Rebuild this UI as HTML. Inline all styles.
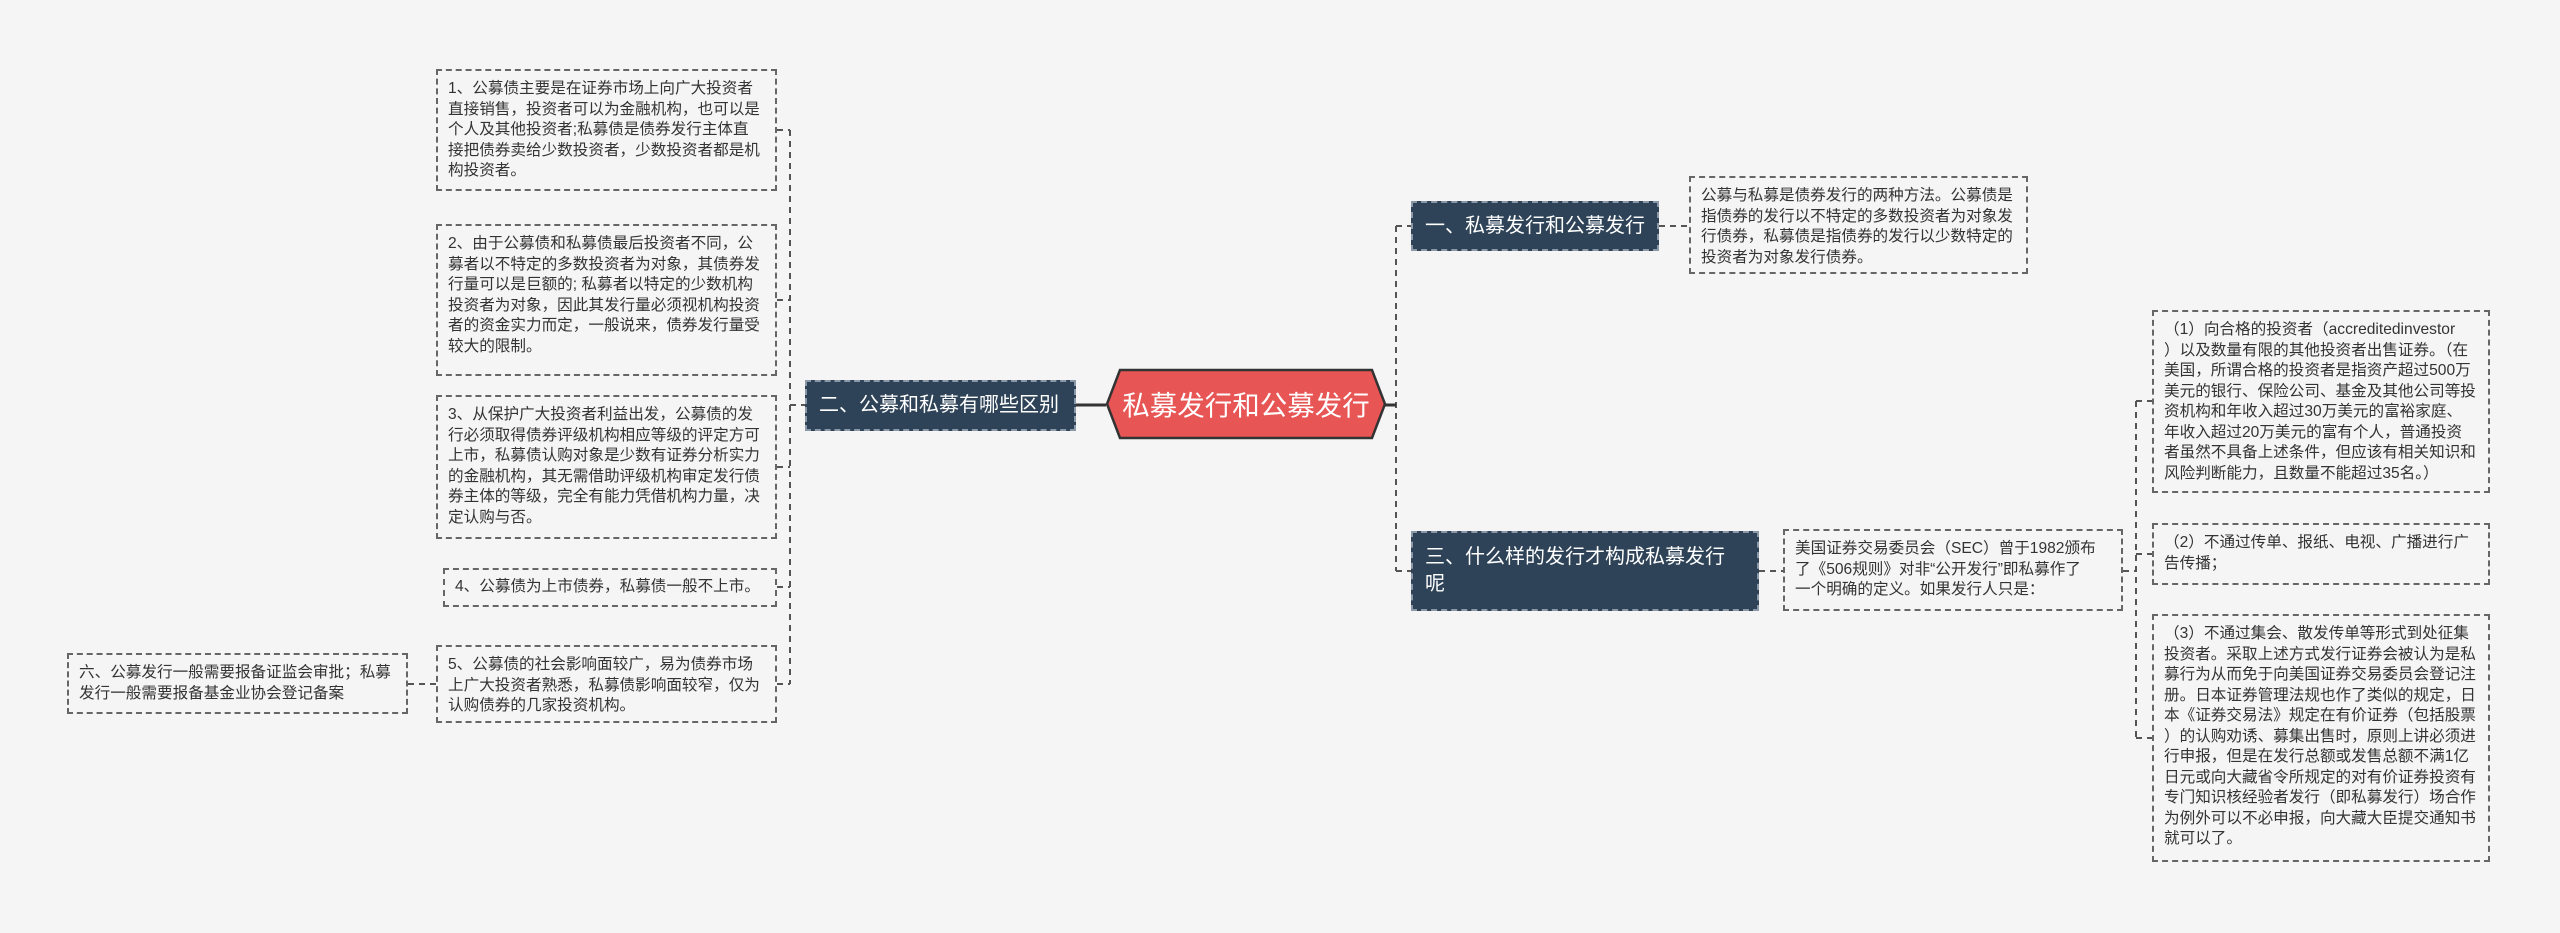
<!DOCTYPE html>
<html><head><meta charset="utf-8"><style>
html,body{margin:0;padding:0}
body{width:2560px;height:933px;background:#f5f5f5;position:relative;overflow:hidden;font-family:"Liberation Sans","Noto Sans CJK SC",sans-serif;color:#333}
.b{position:absolute;box-sizing:border-box;border:2px dashed #666;font-size:15.6px;line-height:20.5px;padding:8px 10px;white-space:nowrap;color:#333}
.n{position:absolute;box-sizing:border-box;background:#2e4358;border:2px dashed #8a98a8;color:#fff;font-size:20px;line-height:27px;padding:0 12px;white-space:nowrap}
svg{position:absolute;left:0;top:0}
</style></head><body>
<svg width="2560" height="933">
<g stroke="#555" stroke-width="2" stroke-dasharray="6,5" fill="none">
<line x1="790" y1="130" x2="790" y2="684"/>
<line x1="777" y1="130" x2="790" y2="130"/>
<line x1="777" y1="300" x2="790" y2="300"/>
<line x1="777" y1="467" x2="790" y2="467"/>
<line x1="777" y1="587" x2="790" y2="587"/>
<line x1="777" y1="684" x2="790" y2="684"/>
<line x1="790" y1="405" x2="805" y2="405"/>
<line x1="408" y1="684" x2="436" y2="684"/>
<line x1="1396" y1="226" x2="1396" y2="571"/>
<line x1="1396" y1="226" x2="1411" y2="226"/>
<line x1="1396" y1="571" x2="1411" y2="571"/>
<line x1="1659" y1="226" x2="1689" y2="226"/>
<line x1="1759" y1="571" x2="1783" y2="571"/>
<line x1="2123" y1="571" x2="2136" y2="571"/>
<line x1="2136" y1="401" x2="2136" y2="738"/>
<line x1="2136" y1="401" x2="2152" y2="401"/>
<line x1="2136" y1="554" x2="2152" y2="554"/>
<line x1="2136" y1="738" x2="2152" y2="738"/>
</g>
<line x1="1076" y1="405" x2="1106" y2="405" stroke="#333" stroke-width="3"/>
<line x1="1385" y1="405" x2="1396" y2="405" stroke="#333" stroke-width="3"/>
<polygon points="1120,370 1372,370 1385,404 1372,438 1120,438 1107,404" fill="#e85555" stroke="#333" stroke-width="2.5"/>
<text x="1246" y="415" text-anchor="middle" font-size="27.5" fill="#fff" font-family="Liberation Sans, Noto Sans CJK SC, sans-serif">私募发行和公募发行</text>
</svg>

<div class="b" style="left:436px;top:69px;width:341px;height:122px">1、公募债主要是在证券市场上向广大投资者<br>直接销售，投资者可以为金融机构，也可以是<br>个人及其他投资者;私募债是债券发行主体直<br>接把债券卖给少数投资者，少数投资者都是机<br>构投资者。</div>
<div class="b" style="left:436px;top:224px;width:341px;height:152px">2、由于公募债和私募债最后投资者不同，公<br>募者以不特定的多数投资者为对象，其债券发<br>行量可以是巨额的; 私募者以特定的少数机构<br>投资者为对象，因此其发行量必须视机构投资<br>者的资金实力而定，一般说来，债券发行量受<br>较大的限制。</div>
<div class="b" style="left:436px;top:395px;width:341px;height:144px">3、从保护广大投资者利益出发，公募债的发<br>行必须取得债券评级机构相应等级的评定方可<br>上市，私募债认购对象是少数有证券分析实力<br>的金融机构，其无需借助评级机构审定发行债<br>券主体的等级，完全有能力凭借机构力量，决<br>定认购与否。</div>
<div class="b" style="left:443px;top:568px;width:334px;height:39px;padding-top:7px">4、公募债为上市债券，私募债一般不上市。</div>
<div class="b" style="left:436px;top:645px;width:341px;height:78px">5、公募债的社会影响面较广，易为债券市场<br>上广大投资者熟悉，私募债影响面较窄，仅为<br>认购债券的几家投资机构。</div>
<div class="b" style="left:67px;top:653px;width:341px;height:61px">六、公募发行一般需要报备证监会审批；私募<br>发行一般需要报备基金业协会登记备案</div>

<div class="n" style="left:805px;top:380px;width:271px;height:51px;line-height:47px">二、公募和私募有哪些区别</div>
<div class="n" style="left:1411px;top:201px;width:248px;height:50px;line-height:46px">一、私募发行和公募发行</div>
<div class="n" style="left:1411px;top:531px;width:348px;height:80px;padding-top:11px">三、什么样的发行才构成私募发行<br>呢</div>

<div class="b" style="left:1689px;top:176px;width:339px;height:98px">公募与私募是债券发行的两种方法。公募债是<br>指债券的发行以不特定的多数投资者为对象发<br>行债券，私募债是指债券的发行以少数特定的<br>投资者为对象发行债券。</div>
<div class="b" style="left:1783px;top:529px;width:340px;height:82px">美国证券交易委员会（SEC）曾于1982颁布<br>了《506规则》对非“公开发行”即私募作了<br>一个明确的定义。如果发行人只是：</div>
<div class="b" style="left:2152px;top:310px;width:338px;height:183px">（1）向合格的投资者（accreditedinvestor<br>）以及数量有限的其他投资者出售证券。（在<br>美国，所谓合格的投资者是指资产超过500万<br>美元的银行、保险公司、基金及其他公司等投<br>资机构和年收入超过30万美元的富裕家庭、<br>年收入超过20万美元的富有个人，普通投资<br>者虽然不具备上述条件，但应该有相关知识和<br>风险判断能力，且数量不能超过35名。）</div>
<div class="b" style="left:2152px;top:523px;width:338px;height:62px">（2）不通过传单、报纸、电视、广播进行广<br>告传播；</div>
<div class="b" style="left:2152px;top:614px;width:338px;height:248px">（3）不通过集会、散发传单等形式到处征集<br>投资者。采取上述方式发行证券会被认为是私<br>募行为从而免于向美国证券交易委员会登记注<br>册。日本证券管理法规也作了类似的规定，日<br>本《证券交易法》规定在有价证券（包括股票<br>）的认购劝诱、募集出售时，原则上讲必须进<br>行申报，但是在发行总额或发售总额不满1亿<br>日元或向大藏省令所规定的对有价证券投资有<br>专门知识核经验者发行（即私募发行）场合作<br>为例外可以不必申报，向大藏大臣提交通知书<br>就可以了。</div>
</body></html>
